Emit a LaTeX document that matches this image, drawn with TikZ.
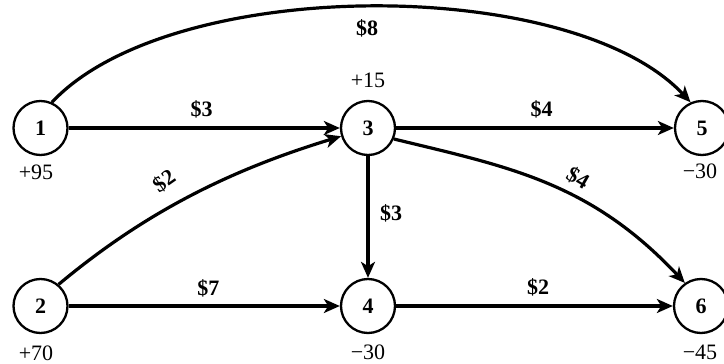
\documentclass[tikz,border=0pt]{standalone}
\usepackage{fontspec}
\setmainfont{Liberation Serif}
\usetikzlibrary{arrows.meta}
\begin{document}
\begin{tikzpicture}[x=0.5pt,y=-0.5pt,
  every node/.style={font=\fontsize{11}{13}\selectfont},
  vertex/.style={circle,draw,line width=1.15pt,minimum size=27pt,inner sep=0pt,font=\fontsize{11}{13}\selectfont\bfseries},
  edge/.style={line width=1.6pt,-{Stealth[length=8pt,width=7pt,inset=2.2pt]}},
  cost/.style={font=\fontsize{11}{13}\selectfont\bfseries,inner sep=0pt},
  supply/.style={inner sep=0pt}]
\useasboundingbox (0,0) rectangle (724,364);
% nodes
\node[vertex] (n1) at (40.5,128) {1};
\node[vertex] (n2) at (40.5,306) {2};
\node[vertex] (n3) at (368,128) {3};
\node[vertex] (n4) at (368,306) {4};
\node[vertex] (n5) at (702,128) {5};
\node[vertex] (n6) at (701,306) {6};
% supplies / demands
\node[supply] (s1) at (36,172) {+95};
\node[supply] (s2) at (36,353) {+70};
\node[supply] (s3) at (368,80) {+15};
\node[supply] (s4) at (368,352) {−30};
\node[supply] (s5) at (700,171) {−30};
\node[supply] (s6) at (700,352) {−45};
% edges
\draw[edge] (n1.66) .. controls (171,-25) and (572,-25) .. (n5.114);
\draw[edge] (n1) -- (n3);
\draw[edge] (n3) -- (n5);
\draw[edge] (n2) -- (n4);
\draw[edge] (n4) -- (n6);
\draw[edge] (n3) -- (n4);
\draw[edge] (n2.50) .. controls (150,208) and (237,168) .. (n3.197);
\draw[edge] (n3.-23) .. controls (509,167) and (590,182) .. (n6.125);
% cost labels
\node[cost] (c15) at (367,28) {\$8};
\node[cost] (c13) at (201.7,109) {\$3};
\node[cost] (c35) at (541.7,109) {\$4};
\node[cost,rotate=35] (c23) at (164,181) {\$2};
\node[cost] (c24) at (208.3,288) {\$7};
\node[cost] (c34) at (391,213) {\$3};
\node[cost,rotate=-30] (c36) at (578,178) {\$4};
\node[cost] (c46) at (538,287) {\$2};
\end{tikzpicture}
\end{document}
